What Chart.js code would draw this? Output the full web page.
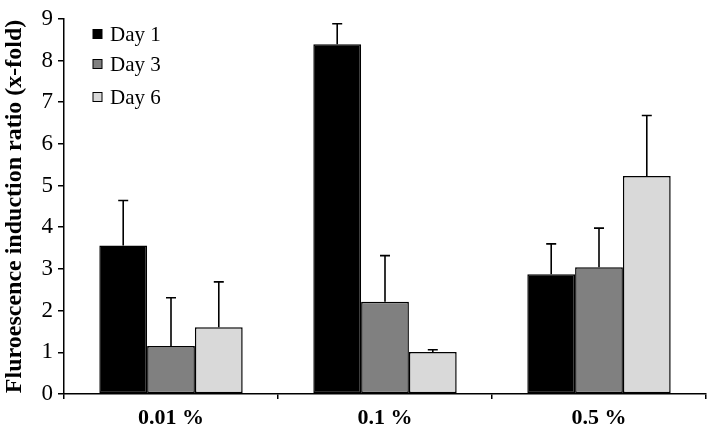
<!DOCTYPE html>
<html>
<head>
<meta charset="utf-8">
<script src="https://cdn.jsdelivr.net/npm/chart.js@4.4.0/dist/chart.umd.min.js"></script>
<style>
  html, body { margin: 0; padding: 0; background: #fff; }
  #wrap { width: 709px; height: 431px; }
</style>
</head>
<body>
<div id="wrap"><canvas id="chart" width="709" height="431"></canvas></div>
<script>
const categories = ['0.01 %', '0.1 %', '0.5 %'];
const seriesNames = ['Day 1', 'Day 3', 'Day 6'];
const day1 = [3.56, 8.39, 2.87];
const day3 = [1.15, 2.21, 3.04];
const day6 = [1.60, 1.01, 5.23];
const day1Err = [1.08, 0.49, 0.73];
const day3Err = [1.16, 1.11, 0.94];
const day6Err = [1.09, 0.05, 1.45];
const yTicks = [0, 1, 2, 3, 4, 5, 6, 7, 8, 9];

const fills = ['#000000', '#808080', '#d9d9d9'];
const serif = '"Liberation Serif", "Times New Roman", serif';

const errorBars = {
  id: 'errorBars',
  afterDatasetsDraw(chart) {
    const ctx = chart.ctx;
    const y = chart.scales.y;
    ctx.save();
    ctx.strokeStyle = '#000';
    ctx.lineWidth = 1.6;
    chart.data.datasets.forEach((ds, i) => {
      const meta = chart.getDatasetMeta(i);
      meta.data.forEach((bar, j) => {
        const top = y.getPixelForValue(ds.data[j] + ds.err[j]);
        ctx.beginPath();
        ctx.moveTo(bar.x, bar.y);
        ctx.lineTo(bar.x, top);
        ctx.moveTo(bar.x - 5, top);
        ctx.lineTo(bar.x + 5, top);
        ctx.stroke();
      });
    });
    ctx.restore();
  }
};

const innerLegend = {
  id: 'innerLegend',
  afterDraw(chart) {
    const ctx = chart.ctx;
    ctx.save();
    ctx.font = '21px ' + serif;
    ctx.textBaseline = 'middle';
    const rows = [34, 64, 97];
    chart.data.datasets.forEach((ds, i) => {
      ctx.fillStyle = ds.backgroundColor;
      ctx.fillRect(93, rows[i] - 4.5, 9, 9);
      ctx.strokeStyle = '#000';
      ctx.lineWidth = 1;
      ctx.strokeRect(93, rows[i] - 4.5, 9, 9);
      ctx.fillStyle = '#000';
      ctx.fillText(ds.label, 110, rows[i] + 1);
    });
    ctx.restore();
  }
};

new Chart(document.getElementById('chart'), {
  type: 'bar',
  data: {
    labels: categories,
    datasets: [day1, day3, day6].map((d, i) => ({
      label: seriesNames[i],
      data: d,
      err: [day1Err, day3Err, day6Err][i],
      backgroundColor: fills[i],
      borderColor: '#000',
      borderWidth: 1.5,
      borderSkipped: false
    }))
  },
  options: {
    responsive: false,
    animation: false,
    events: [],
    categoryPercentage: 0.67,
    barPercentage: 1.0,
    layout: { padding: { top: 12, right: 3, left: 0, bottom: 0 } },
    plugins: {
      legend: { display: false },
      tooltip: { enabled: false }
    },
    scales: {
      x: {
        offset: true,
        grid: { offset: true, drawOnChartArea: false, drawTicks: true, tickLength: 5, color: '#000', lineWidth: 1.5 },
        border: { color: '#000', width: 1.5 },
        ticks: { color: '#000', font: { family: serif, size: 22, weight: 'bold' }, padding: 6 },
        afterFit(scale) { scale.height = 37; }
      },
      y: {
        min: 0,
        max: 9,
        afterBuildTicks(scale) { scale.ticks = yTicks.map(v => ({ value: v })); },
        grid: { drawOnChartArea: false, drawTicks: true, tickLength: 6, color: '#000', lineWidth: 1.5 },
        border: { color: '#000', width: 1.5 },
        ticks: { color: '#000', font: { family: serif, size: 23 }, padding: 5 },
        title: {
          display: true,
          text: 'Fluroescence induction ratio (x-fold)',
          color: '#000',
          font: { family: serif, size: 24, weight: 'bold' },
          padding: { top: 0, bottom: 0 }
        },
        afterFit(scale) { scale.width = 64; }
      }
    }
  },
  plugins: [errorBars, innerLegend]
});
</script>
</body>
</html>
